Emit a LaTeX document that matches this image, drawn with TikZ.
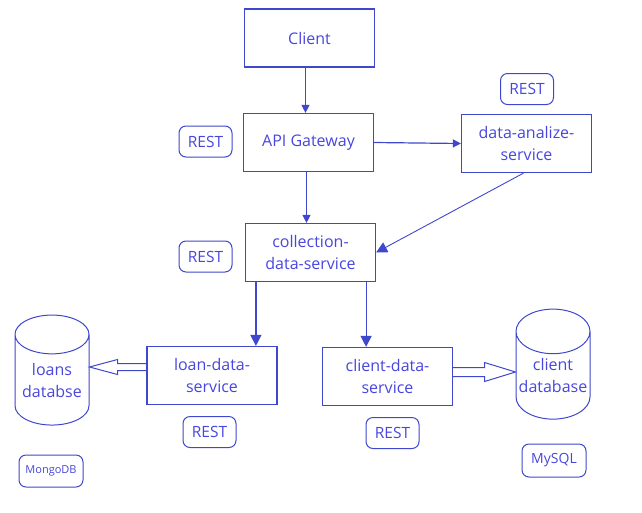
\documentclass[tikz,border=0pt]{standalone}
\usepackage{fontspec}
\setmainfont{Open Sans}
\usetikzlibrary{arrows.meta,shapes.geometric,calc}
\definecolor{paintblue}{RGB}{63,72,204}
\definecolor{textblue}{RGB}{72,70,222}
\newcommand{\hollowarrow}[5]{%
  \draw[paintblue,line width=1pt] let \p1=(#1), \p2=(#2), \n1={sign(\x2-\x1)} in
    (\x1,\y1+#3) -- (\x2-\n1*#5,\y1+#3) -- (\x2-\n1*#5,\y1+#4) -- (\x2,\y1)
    -- (\x2-\n1*#5,\y1-#4) -- (\x2-\n1*#5,\y1-#3) -- (\x1,\y1-#3);}
\begin{document}
\begin{tikzpicture}[x=1pt,y=-1pt,
  box/.style={draw=paintblue,line width=1.2pt,minimum width=130pt,minimum height=58pt,
    align=center,text=textblue,font=\fontsize{16}{22}\selectfont},
  tag/.style={draw=paintblue,line width=1pt,rounded corners=7pt,minimum width=53pt,
    minimum height=31pt,inner sep=0pt,text=textblue,font=\fontsize{15.5}{18}\selectfont},
  db/.style={cylinder,shape border rotate=90,aspect=0.65,draw=paintblue,line width=1pt,
    minimum width=74pt,minimum height=110pt,inner sep=0pt,align=center,text=textblue,
    font=\fontsize{16}{22}\selectfont},
  link/.style={draw=paintblue,line width=1.2pt,-{Triangle[length=8pt,width=8pt]}},
  biglink/.style={link,-{Triangle[length=11pt,width=11pt]}}]
\useasboundingbox (0,0) rectangle (642,512);
\node[box] (client) at (309.5,38) {Client};
\node[box] (gateway) at (308.5,142.5) {API Gateway};
\node[box] (analize) at (526.5,143.5) {data-analize-\\service};
\node[box] (collection) at (310.5,252.5) {collection-\\data-service};
\node[box] (loan) at (212,375.5) {loan-data-\\service};
\node[box] (clientsvc) at (387.5,376.5) {client-data-\\service};
\node[db] (loansdb) at (52,380) {loans\\databse};
\node[db] (clientdb) at (553,375.5) {client\\database};
\foreach \n/\x/\y in {1/205.5/141.5,2/527/89,3/205.5/256.5,4/209.5/432,5/392.5/433}
  \node[tag] (rest\n) at (\x,\y) {REST};
\node[tag,minimum width=64pt,minimum height=32pt,font=\fontsize{11}{13}\selectfont] (mongo) at (51,471) {MongoDB};
\node[tag,minimum width=64pt,minimum height=33pt,font=\fontsize{14}{16}\selectfont] (mysql) at (554,460.5) {MySQL};
\draw[link] ([xshift=-4pt]client.south) -- ([xshift=-3pt]gateway.north);
\draw[link] ([xshift=-2pt]gateway.south) -- ([xshift=-4pt]collection.north);
\draw[link] (gateway.east) -- (analize.west);
\draw[biglink,line width=0.9pt] ([xshift=-3pt]analize.south) -- (collection.east);
\coordinate (c1) at ([xshift=11pt]collection.south west);
\coordinate (c2) at ([xshift=-10pt]collection.south east);
\draw[biglink] (c1) -- (c1 |- loan.north);
\draw[biglink] (c2) -- (c2 |- clientsvc.north);
\coordinate (h1) at ([yshift=8.5pt]loan.west);
\coordinate (h2) at ([yshift=4.5pt]clientsvc.east);
\hollowarrow{h1}{loansdb.east |- h1}{3.5}{7.5}{28}
\hollowarrow{h2}{clientdb.west |- h2}{4.5}{9.5}{31}
\end{tikzpicture}
\end{document}
